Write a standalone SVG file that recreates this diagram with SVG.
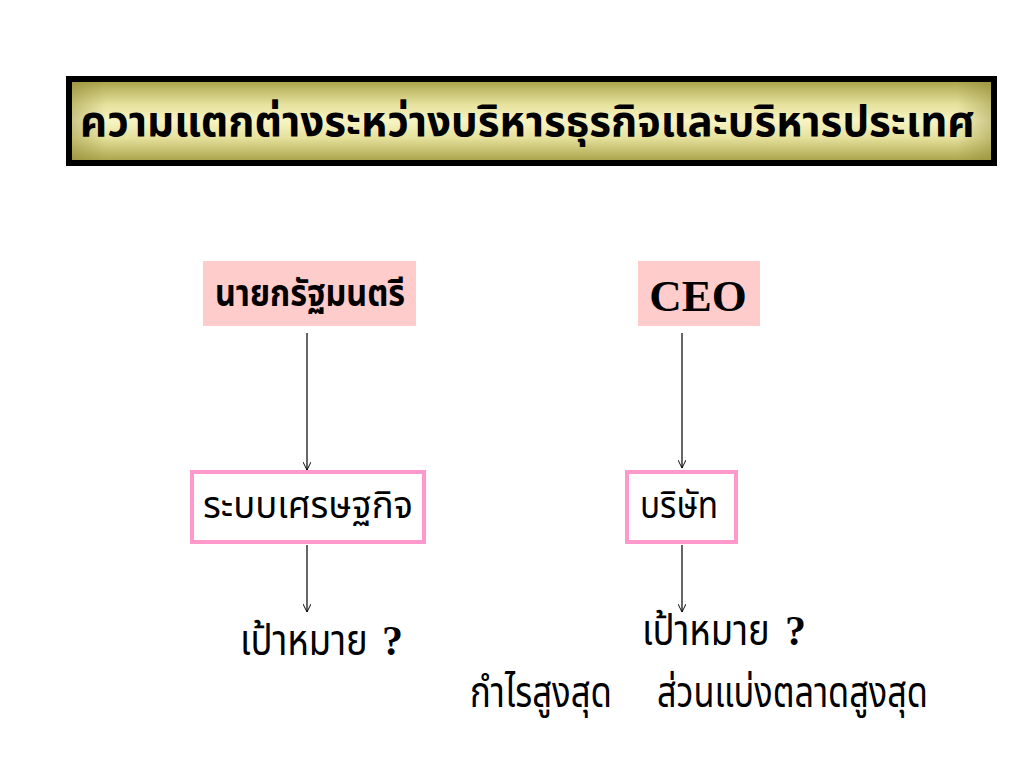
<svg xmlns="http://www.w3.org/2000/svg" width="1024" height="768" viewBox="0 0 1024 768">
<defs>
<linearGradient id="tgv" x1="0" y1="0" x2="0" y2="1">
<stop offset="0" stop-color="#a49e44"/>
<stop offset="0.3" stop-color="#e6e19c"/>
<stop offset="0.5" stop-color="#f7f4c4"/>
<stop offset="0.7" stop-color="#e6e19c"/>
<stop offset="1" stop-color="#a49e44"/>
</linearGradient>
<linearGradient id="tgh" x1="0" y1="0" x2="1" y2="0">
<stop offset="0" stop-color="#8a8430" stop-opacity="0.45"/>
<stop offset="0.04" stop-color="#8a8430" stop-opacity="0"/>
<stop offset="0.96" stop-color="#8a8430" stop-opacity="0"/>
<stop offset="1" stop-color="#8a8430" stop-opacity="0.45"/>
</linearGradient>
<marker id="arr" viewBox="0 0 10 10" refX="10" refY="5" markerWidth="8" markerHeight="8" markerUnits="userSpaceOnUse" orient="auto">
<path d="M0,0 L10,5 L0,10" fill="none" stroke="#000" stroke-width="1.2"/>
</marker>
</defs>
<style>
.th{font-family:"Noto Sans Thai","Noto Sans","DejaVu Sans",sans-serif;fill:#000}
.b{font-weight:bold}
.pink{fill:#ffcccc;stroke:none}
.box{fill:#fff;stroke:#ff99cc;stroke-width:4}
.c{stroke:#000;stroke-width:1.2;fill:none;marker-end:url(#arr)}
.q{font-family:"Liberation Serif",serif;font-weight:bold;fill:#000}
</style>
<rect width="1024" height="768" fill="#fff"/>
<g id="title">
<rect x="69" y="79" width="925" height="84" fill="url(#tgv)"/>
<rect x="69" y="79" width="925" height="84" fill="url(#tgh)" stroke="#000" stroke-width="6"/>
<text class="th b" x="80" y="136" font-size="42" textLength="895" lengthAdjust="spacingAndGlyphs">ความแตกต่างระหว่างบริหารธุรกิจและบริหารประเทศ</text>
</g>
<g id="connectors">
<line class="c" x1="307" y1="333" x2="307" y2="470"/>
<line class="c" x1="307" y1="545" x2="307" y2="612"/>
<line class="c" x1="682" y1="333" x2="682" y2="468"/>
<line class="c" x1="682" y1="545" x2="682" y2="612"/>
</g>
<g id="pm">
<rect class="pink" x="203" y="261" width="213" height="65"/>
<text class="th b" x="215" y="306" font-size="37" textLength="190" lengthAdjust="spacingAndGlyphs">นายกรัฐมนตรี</text>
</g>
<g id="ceo">
<rect class="pink" x="638" y="261" width="122" height="65"/>
<text x="698" y="311" font-family="Liberation Serif,serif" font-weight="bold" font-size="45" text-anchor="middle">CEO</text>
</g>
<g id="economy">
<rect class="box" x="192" y="472" width="232" height="70"/>
<text class="th" x="203" y="518" font-size="37" textLength="210" lengthAdjust="spacingAndGlyphs">ระบบเศรษฐกิจ</text>
</g>
<g id="company">
<rect class="box" x="627" y="472" width="109" height="70"/>
<text class="th" x="640" y="518" font-size="37" textLength="78" lengthAdjust="spacingAndGlyphs">บริษัท</text>
</g>
<g id="goal-left">
<text class="th" transform="translate(240,655) scale(0.87,1)" font-size="42">เป้าหมาย</text>
<text class="q" x="382" y="655" font-size="42">?</text>
</g>
<g id="goal-right">
<text class="th" transform="translate(642,645) scale(0.87,1)" font-size="42">เป้าหมาย</text>
<text class="q" x="785" y="645" font-size="42">?</text>
</g>
<g id="profit">
<text class="th" x="470" y="707" font-size="42" textLength="142" lengthAdjust="spacingAndGlyphs">กำไรสูงสุด</text>
</g>
<g id="share">
<text class="th" x="657" y="707" font-size="42" textLength="271" lengthAdjust="spacingAndGlyphs">ส่วนแบ่งตลาดสูงสุด</text>
</g>
</svg>
